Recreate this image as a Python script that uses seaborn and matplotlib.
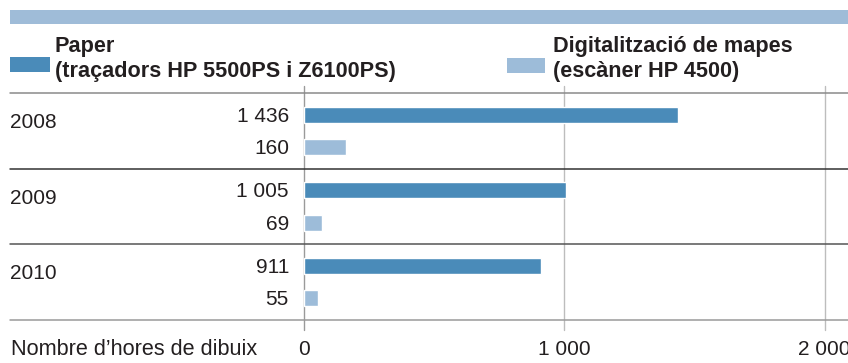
import matplotlib
matplotlib.use("Agg")
import matplotlib.pyplot as plt
import matplotlib.transforms as mtransforms
from matplotlib.patches import Rectangle
import seaborn as sns
import pandas as pd

# Data: hours of plotting per year
years = ["2008", "2009", "2010"]
paper_hours = [1436, 1005, 911]
scan_hours = [160, 69, 55]
series_names = ["Paper", "Digitalització"]
tick_values = [0, 1000, 2000]
tick_labels = ["0", "1 000", "2 000"]

paper_color = "#4a8bb9"
scan_color = "#9dbcd9"
text_color = "#231f20"
FS = 15      # numbers
FS_T = 15.6  # words

df = pd.DataFrame({
    "year": years * 2,
    "series": [series_names[0]] * 3 + [series_names[1]] * 3,
    "hours": paper_hours + scan_hours,
})

sns.set_theme(style="white")
plt.rcParams["font.family"] = ["Liberation Sans", "DejaVu Sans"]

fig = plt.figure(figsize=(8.48, 3.63), dpi=100)
W, H = 848, 363
ax = fig.add_axes([304 / W, 1 - 320 / H, 544 / W, 227 / H])

sns.barplot(data=df, x="hours", y="year", hue="series", orient="h",
            palette=[paper_color, scan_color], width=0.848, gap=0.5,
            errorbar=None, legend=False, ax=ax, saturation=1)

ax.set_xlim(0, 2090)
ax.set_ylim(2.5, -0.5)
for s in ax.spines.values():
    s.set_visible(False)
ax.set_ylabel("")
ax.set_xlabel("")
ax.set_yticks([])
ax.set_xticks(tick_values)
ax.set_xticklabels(tick_labels)
ax.tick_params(axis="x", length=0, pad=25, labelsize=FS, labelcolor=text_color)
for lbl in ax.get_xticklabels():
    lbl.set_va("baseline")

# Vertical gridlines extending slightly past the plot area
for v, c in zip(tick_values, ["#9a9a9a", "#bdbdbd", "#bdbdbd"]):
    ax.axvline(v, ymin=-0.045, ymax=1.031, color=c, lw=1.0, clip_on=False, zorder=0)

# Row separators spanning the full width
left_frac = -(304 - 10) / 544
for yv, c in zip([-0.5, 0.5, 1.5, 2.5], ["#8a8a8a", "#333333", "#555555", "#9a9a9a"]):
    ax.axhline(yv, xmin=left_frac, xmax=1.0, color=c, lw=1.1, clip_on=False, zorder=1)

# Value labels and year labels (baseline placed)
unit = 75.5  # pixels per category row
blend = mtransforms.blended_transform_factory(fig.transFigure, ax.transData)
for i, yr in enumerate(years):
    ax.text(-58, i - 0.212 + 7 / unit, f"{paper_hours[i]:,}".replace(",", " "),
            ha="right", va="baseline", fontsize=FS, color=text_color)
    ax.text(-58, i + 0.212 + 7 / unit, f"{scan_hours[i]:,}".replace(",", " "),
            ha="right", va="baseline", fontsize=FS, color=text_color)
    ax.text(10 / W, i - 2.75 / unit, yr, transform=blend, ha="left",
            va="baseline", fontsize=FS, color=text_color)

fig.text(11 / W, 1 - 355 / H, "Nombre d’hores de dibuix", ha="left", va="baseline",
         fontsize=FS_T, color=text_color)

# Top band
fig.add_artist(Rectangle((10 / W, 1 - 24 / H), 838 / W, 14 / H,
                         transform=fig.transFigure, color="#9fbcd8", lw=0))

# Legend
fig.add_artist(Rectangle((10 / W, 1 - 72 / H), 40 / W, 15 / H,
                         transform=fig.transFigure, color=paper_color, lw=0))
fig.text(55 / W, 1 - 52 / H, "Paper", ha="left", va="baseline", fontsize=FS_T,
         fontweight="bold", color=text_color)
fig.text(55 / W, 1 - 77 / H, "(traçadors HP 5500PS i Z6100PS)", ha="left",
         va="baseline", fontsize=FS_T, fontweight="bold", color=text_color)

fig.add_artist(Rectangle((507 / W, 1 - 73 / H), 38 / W, 15 / H,
                         transform=fig.transFigure, color=scan_color, lw=0))
fig.text(553 / W, 1 - 52 / H, "Digitalització de mapes", ha="left", va="baseline",
         fontsize=FS_T, fontweight="bold", color=text_color)
fig.text(553 / W, 1 - 77 / H, "(escàner HP 4500)", ha="left", va="baseline",
         fontsize=FS_T, fontweight="bold", color=text_color)

fig.savefig("out.png", dpi=100)
